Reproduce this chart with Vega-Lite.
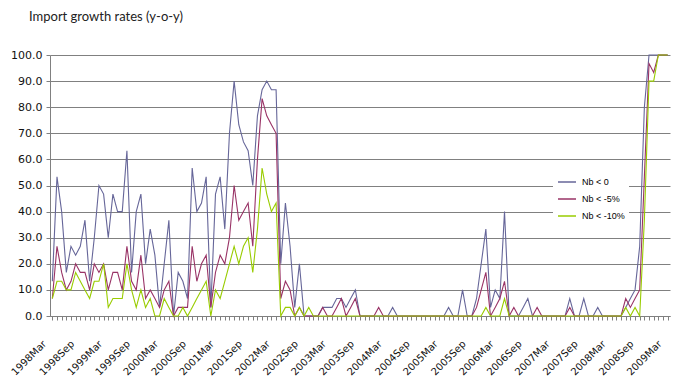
{
  "$schema": "https://vega.github.io/schema/vega-lite/v6.json",
  "autosize": {"type": "none"},
  "padding": {"left": 50, "top": 55, "right": 5, "bottom": 64},
  "width": 620,
  "height": 261,
  "background": "white",
  "title": {
    "text": "Import growth rates (y-o-y)",
    "anchor": "start",
    "frame": "group",
    "orient": "top",
    "baseline": "alphabetic",
    "offset": 15,
    "dx": -21,
    "font": "Lato",
    "fontSize": 13,
    "fontWeight": "normal",
    "color": "#222222"
  },
  "data": {
    "values": [
      {"month": "1998Mar", "nb0": 13.3, "nb5": 6.7, "nb10": 6.7},
      {"month": "1998Apr", "nb0": 53.3, "nb5": 26.7, "nb10": 13.3},
      {"month": "1998May", "nb0": 40, "nb5": 16.7, "nb10": 13.3},
      {"month": "1998Jun", "nb0": 16.7, "nb5": 10, "nb10": 10},
      {"month": "1998Jul", "nb0": 26.7, "nb5": 13.3, "nb10": 10},
      {"month": "1998Aug", "nb0": 23.3, "nb5": 20, "nb10": 16.7},
      {"month": "1998Sep", "nb0": 26.7, "nb5": 16.7, "nb10": 13.3},
      {"month": "1998Oct", "nb0": 36.7, "nb5": 16.7, "nb10": 10},
      {"month": "1998Nov", "nb0": 13.3, "nb5": 10, "nb10": 6.7},
      {"month": "1998Dec", "nb0": 30, "nb5": 20, "nb10": 13.3},
      {"month": "1999Jan", "nb0": 50, "nb5": 16.7, "nb10": 13.3},
      {"month": "1999Feb", "nb0": 46.7, "nb5": 20, "nb10": 20},
      {"month": "1999Mar", "nb0": 30, "nb5": 10, "nb10": 3.3},
      {"month": "1999Apr", "nb0": 46.7, "nb5": 16.7, "nb10": 6.7},
      {"month": "1999May", "nb0": 40, "nb5": 16.7, "nb10": 6.7},
      {"month": "1999Jun", "nb0": 40, "nb5": 10, "nb10": 6.7},
      {"month": "1999Jul", "nb0": 63.3, "nb5": 26.7, "nb10": 20},
      {"month": "1999Aug", "nb0": 16.7, "nb5": 13.3, "nb10": 10},
      {"month": "1999Sep", "nb0": 40, "nb5": 10, "nb10": 3.3},
      {"month": "1999Oct", "nb0": 46.7, "nb5": 23.3, "nb10": 10},
      {"month": "1999Nov", "nb0": 20, "nb5": 6.7, "nb10": 3.3},
      {"month": "1999Dec", "nb0": 33.3, "nb5": 10, "nb10": 6.7},
      {"month": "2000Jan", "nb0": 23.3, "nb5": 6.7, "nb10": 0},
      {"month": "2000Feb", "nb0": 3.3, "nb5": 3.3, "nb10": 0},
      {"month": "2000Mar", "nb0": 20, "nb5": 10, "nb10": 6.7},
      {"month": "2000Apr", "nb0": 36.7, "nb5": 13.3, "nb10": 3.3},
      {"month": "2000May", "nb0": 0, "nb5": 0, "nb10": 0},
      {"month": "2000Jun", "nb0": 16.7, "nb5": 3.3, "nb10": 0},
      {"month": "2000Jul", "nb0": 13.3, "nb5": 3.3, "nb10": 3.3},
      {"month": "2000Aug", "nb0": 6.7, "nb5": 3.3, "nb10": 0},
      {"month": "2000Sep", "nb0": 56.7, "nb5": 26.7, "nb10": 3.3},
      {"month": "2000Oct", "nb0": 40, "nb5": 13.3, "nb10": 6.7},
      {"month": "2000Nov", "nb0": 43.3, "nb5": 20, "nb10": 10},
      {"month": "2000Dec", "nb0": 53.3, "nb5": 23.3, "nb10": 13.3},
      {"month": "2001Jan", "nb0": 3.3, "nb5": 3.3, "nb10": 0},
      {"month": "2001Feb", "nb0": 46.7, "nb5": 16.7, "nb10": 10},
      {"month": "2001Mar", "nb0": 53.3, "nb5": 23.3, "nb10": 6.7},
      {"month": "2001Apr", "nb0": 33.3, "nb5": 20, "nb10": 13.3},
      {"month": "2001May", "nb0": 70, "nb5": 30, "nb10": 20},
      {"month": "2001Jun", "nb0": 90, "nb5": 50, "nb10": 26.7},
      {"month": "2001Jul", "nb0": 73.3, "nb5": 36.7, "nb10": 20},
      {"month": "2001Aug", "nb0": 66.7, "nb5": 40, "nb10": 26.7},
      {"month": "2001Sep", "nb0": 63.3, "nb5": 43.3, "nb10": 30},
      {"month": "2001Oct", "nb0": 50, "nb5": 26.7, "nb10": 16.7},
      {"month": "2001Nov", "nb0": 76.7, "nb5": 60, "nb10": 33.3},
      {"month": "2001Dec", "nb0": 86.7, "nb5": 83.3, "nb10": 56.7},
      {"month": "2002Jan", "nb0": 90, "nb5": 76.7, "nb10": 46.7},
      {"month": "2002Feb", "nb0": 86.7, "nb5": 73.3, "nb10": 40},
      {"month": "2002Mar", "nb0": 86.7, "nb5": 70, "nb10": 43.3},
      {"month": "2002Apr", "nb0": 20, "nb5": 6.7, "nb10": 0},
      {"month": "2002May", "nb0": 43.3, "nb5": 13.3, "nb10": 3.3},
      {"month": "2002Jun", "nb0": 26.7, "nb5": 10, "nb10": 3.3},
      {"month": "2002Jul", "nb0": 3.3, "nb5": 0, "nb10": 0},
      {"month": "2002Aug", "nb0": 20, "nb5": 3.3, "nb10": 3.3},
      {"month": "2002Sep", "nb0": 0, "nb5": 0, "nb10": 0},
      {"month": "2002Oct", "nb0": 0, "nb5": 0, "nb10": 3.3},
      {"month": "2002Nov", "nb0": 0, "nb5": 0, "nb10": 0},
      {"month": "2002Dec", "nb0": 0, "nb5": 0, "nb10": 0},
      {"month": "2003Jan", "nb0": 3.3, "nb5": 3.3, "nb10": 0},
      {"month": "2003Feb", "nb0": 3.3, "nb5": 0, "nb10": 0},
      {"month": "2003Mar", "nb0": 3.3, "nb5": 0, "nb10": 0},
      {"month": "2003Apr", "nb0": 6.7, "nb5": 3.3, "nb10": 0},
      {"month": "2003May", "nb0": 6.7, "nb5": 6.7, "nb10": 0},
      {"month": "2003Jun", "nb0": 3.3, "nb5": 0, "nb10": 0},
      {"month": "2003Jul", "nb0": 6.7, "nb5": 3.3, "nb10": 0},
      {"month": "2003Aug", "nb0": 10, "nb5": 6.7, "nb10": 0},
      {"month": "2003Sep", "nb0": 0, "nb5": 0, "nb10": 0},
      {"month": "2003Oct", "nb0": 0, "nb5": 0, "nb10": 0},
      {"month": "2003Nov", "nb0": 0, "nb5": 0, "nb10": 0},
      {"month": "2003Dec", "nb0": 0, "nb5": 0, "nb10": 0},
      {"month": "2004Jan", "nb0": 0, "nb5": 3.3, "nb10": 0},
      {"month": "2004Feb", "nb0": 0, "nb5": 0, "nb10": 0},
      {"month": "2004Mar", "nb0": 0, "nb5": 0, "nb10": 0},
      {"month": "2004Apr", "nb0": 3.3, "nb5": 0, "nb10": 0},
      {"month": "2004May", "nb0": 0, "nb5": 0, "nb10": 0},
      {"month": "2004Jun", "nb0": 0, "nb5": 0, "nb10": 0},
      {"month": "2004Jul", "nb0": 0, "nb5": 0, "nb10": 0},
      {"month": "2004Aug", "nb0": 0, "nb5": 0, "nb10": 0},
      {"month": "2004Sep", "nb0": 0, "nb5": 0, "nb10": 0},
      {"month": "2004Oct", "nb0": 0, "nb5": 0, "nb10": 0},
      {"month": "2004Nov", "nb0": 0, "nb5": 0, "nb10": 0},
      {"month": "2004Dec", "nb0": 0, "nb5": 0, "nb10": 0},
      {"month": "2005Jan", "nb0": 0, "nb5": 0, "nb10": 0},
      {"month": "2005Feb", "nb0": 0, "nb5": 0, "nb10": 0},
      {"month": "2005Mar", "nb0": 0, "nb5": 0, "nb10": 0},
      {"month": "2005Apr", "nb0": 3.3, "nb5": 0, "nb10": 0},
      {"month": "2005May", "nb0": 0, "nb5": 0, "nb10": 0},
      {"month": "2005Jun", "nb0": 0, "nb5": 0, "nb10": 0},
      {"month": "2005Jul", "nb0": 10, "nb5": 0, "nb10": 0},
      {"month": "2005Aug", "nb0": 0, "nb5": 0, "nb10": 0},
      {"month": "2005Sep", "nb0": 0, "nb5": 0, "nb10": 0},
      {"month": "2005Oct", "nb0": 6.7, "nb5": 3.3, "nb10": 0},
      {"month": "2005Nov", "nb0": 20, "nb5": 10, "nb10": 0},
      {"month": "2005Dec", "nb0": 33.3, "nb5": 16.7, "nb10": 3.3},
      {"month": "2006Jan", "nb0": 3.3, "nb5": 0, "nb10": 0},
      {"month": "2006Feb", "nb0": 10, "nb5": 3.3, "nb10": 0},
      {"month": "2006Mar", "nb0": 6.7, "nb5": 6.7, "nb10": 0},
      {"month": "2006Apr", "nb0": 40, "nb5": 13.3, "nb10": 6.7},
      {"month": "2006May", "nb0": 0, "nb5": 0, "nb10": 0},
      {"month": "2006Jun", "nb0": 0, "nb5": 3.3, "nb10": 0},
      {"month": "2006Jul", "nb0": 0, "nb5": 0, "nb10": 0},
      {"month": "2006Aug", "nb0": 3.3, "nb5": 0, "nb10": 0},
      {"month": "2006Sep", "nb0": 6.7, "nb5": 0, "nb10": 0},
      {"month": "2006Oct", "nb0": 0, "nb5": 0, "nb10": 0},
      {"month": "2006Nov", "nb0": 0, "nb5": 3.3, "nb10": 0},
      {"month": "2006Dec", "nb0": 0, "nb5": 0, "nb10": 0},
      {"month": "2007Jan", "nb0": 0, "nb5": 0, "nb10": 0},
      {"month": "2007Feb", "nb0": 0, "nb5": 0, "nb10": 0},
      {"month": "2007Mar", "nb0": 0, "nb5": 0, "nb10": 0},
      {"month": "2007Apr", "nb0": 0, "nb5": 0, "nb10": 0},
      {"month": "2007May", "nb0": 0, "nb5": 0, "nb10": 0},
      {"month": "2007Jun", "nb0": 6.7, "nb5": 3.3, "nb10": 0},
      {"month": "2007Jul", "nb0": 0, "nb5": 0, "nb10": 0},
      {"month": "2007Aug", "nb0": 0, "nb5": 0, "nb10": 0},
      {"month": "2007Sep", "nb0": 6.7, "nb5": 0, "nb10": 0},
      {"month": "2007Oct", "nb0": 0, "nb5": 0, "nb10": 0},
      {"month": "2007Nov", "nb0": 0, "nb5": 0, "nb10": 0},
      {"month": "2007Dec", "nb0": 3.3, "nb5": 0, "nb10": 0},
      {"month": "2008Jan", "nb0": 0, "nb5": 0, "nb10": 0},
      {"month": "2008Feb", "nb0": 0, "nb5": 0, "nb10": 0},
      {"month": "2008Mar", "nb0": 0, "nb5": 0, "nb10": 0},
      {"month": "2008Apr", "nb0": 0, "nb5": 0, "nb10": 0},
      {"month": "2008May", "nb0": 0, "nb5": 0, "nb10": 0},
      {"month": "2008Jun", "nb0": 3.3, "nb5": 6.7, "nb10": 3.3},
      {"month": "2008Jul", "nb0": 6.7, "nb5": 3.3, "nb10": 0},
      {"month": "2008Aug", "nb0": 10, "nb5": 6.7, "nb10": 3.3},
      {"month": "2008Sep", "nb0": 26.7, "nb5": 10, "nb10": 0},
      {"month": "2008Oct", "nb0": 80, "nb5": 53.3, "nb10": 36.7},
      {"month": "2008Nov", "nb0": 100, "nb5": 96.7, "nb10": 90},
      {"month": "2008Dec", "nb0": 100, "nb5": 93.3, "nb10": 90},
      {"month": "2009Jan", "nb0": 100, "nb5": 100, "nb10": 100},
      {"month": "2009Feb", "nb0": 100, "nb5": 100, "nb10": 100},
      {"month": "2009Mar", "nb0": 100, "nb5": 100, "nb10": 100}
    ]
  },
  "transform": [
    {"fold": ["nb0", "nb5", "nb10"], "as": ["series", "value"]}
  ],
  "mark": {"type": "line", "strokeWidth": 1.1, "interpolate": "linear"},
  "encoding": {
    "x": {
      "field": "month",
      "type": "ordinal",
      "sort": null,
      "scale": {"type": "point", "padding": 0.5},
      "axis": {
        "title": null,
        "labelExpr": "test(/(Mar|Sep)$/, datum.label) ? datum.label : ''",
        "labelAngle": -45,
        "labelAlign": "right",
        "labelBaseline": "middle",
        "labelPadding": 22,
        "labelOffset": -8,
        "labelOverlap": false,
        "labelBound": false,
        "labelFont": "DejaVu Sans",
        "labelFontSize": 10,
        "labelColor": "#111111",
        "tickSize": 4,
        "tickColor": "#808080",
        "domainColor": "#808080",
        "grid": false
      }
    },
    "y": {
      "field": "value",
      "type": "quantitative",
      "scale": {"domain": [0, 100], "nice": false},
      "axis": {
        "title": null,
        "values": [0, 10, 20, 30, 40, 50, 60, 70, 80, 90, 100],
        "format": ".1f",
        "labelFont": "DejaVu Sans",
        "labelFontSize": 11,
        "labelColor": "#111111",
        "labelPadding": 4,
        "tickSize": 4,
        "tickColor": "#808080",
        "domainColor": "#808080",
        "grid": true,
        "gridColor": "#808080",
        "gridWidth": 1,
        "gridOpacity": 1
      }
    },
    "color": {
      "field": "series",
      "type": "nominal",
      "scale": {"domain": ["nb0", "nb5", "nb10"], "range": ["#666699", "#993366", "#99CC00"]},
      "legend": {
        "title": null,
        "orient": "none",
        "legendX": 503,
        "legendY": 113,
        "fillColor": "white",
        "padding": 4,
        "symbolType": "stroke",
        "symbolSize": 324,
        "symbolStrokeWidth": 1.5,
        "labelFont": "Liberation Sans",
        "labelFontSize": 9,
        "labelColor": "#000000",
        "labelOffset": 5,
        "rowPadding": 2,
        "labelExpr": "datum.value == 'nb0' ? 'Nb < 0' : datum.value == 'nb5' ? 'Nb < -5%' : 'Nb < -10%'"
      }
    }
  },
  "config": {
    "view": {"stroke": null}
  }
}
